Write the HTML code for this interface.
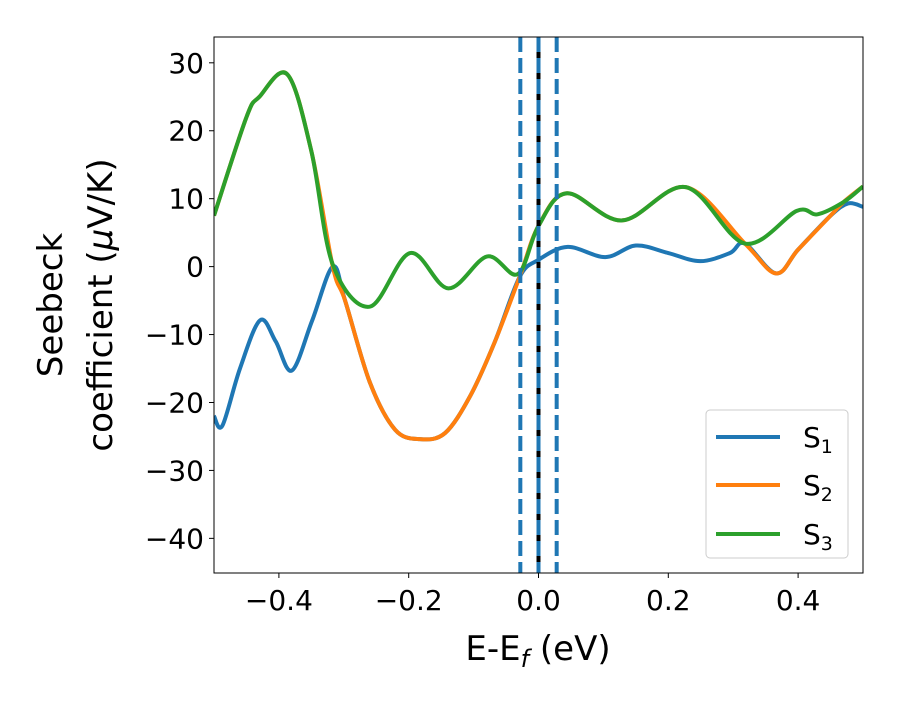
<!DOCTYPE html>
<html><head><meta charset="utf-8"><style>
body{margin:0;background:#fff}
svg text{font-family:"DejaVu Sans","Liberation Sans",sans-serif;fill:#000}
</style></head><body>
<svg id="c" width="900" height="700" xmlns="http://www.w3.org/2000/svg"></svg>
<script>
const xTicks=[-0.4,-0.2,0.0,0.2,0.4];
const xTickLabels=["\u22120.4","\u22120.2","0.0","0.2","0.4"];
const yTicks=[30,20,10,0,-10,-20,-30,-40];
const yTickLabels=["30","20","10","0","\u221210","\u221220","\u221230","\u221240"];
const s1x=[-0.5,-0.487,-0.46,-0.429,-0.405,-0.38,-0.349,-0.317,-0.298,-0.26,-0.221,-0.183,-0.144,-0.105,-0.067,-0.029,0,0.045,0.103,0.15,0.2,0.249,0.295,0.318,0.366,0.4,0.45,0.477,0.5];
const s1y=[-22,-23.4,-15,-7.9,-11,-15.3,-8,0,-5,-17,-24,-25.4,-24.5,-19,-11,-1.5,1,2.9,1.4,3.1,2,0.8,2,3.4,-1,2.5,7.5,9.3,8.8];
const s2x=[-0.5,-0.45,-0.43,-0.387,-0.35,-0.317,-0.298,-0.26,-0.221,-0.183,-0.144,-0.105,-0.067,-0.029,0,0.044,0.129,0.227,0.318,0.366,0.4,0.45,0.47,0.5];
const s2y=[7.5,22,25,28.3,17,0,-5,-17,-24,-25.4,-24.5,-19,-11,-1.5,6,10.8,6.8,11.7,3.4,-1,2.5,7.5,9.5,11.8];
const s3x=[-0.5,-0.45,-0.43,-0.387,-0.35,-0.317,-0.26,-0.198,-0.139,-0.079,-0.032,0,0.044,0.129,0.227,0.318,0.398,0.43,0.47,0.5];
const s3y=[7.5,22,25,28.3,17,0.3,-5.9,2,-3.2,1.5,-1.1,6,10.8,6.8,11.7,3.4,8.2,7.7,9.5,11.8];
const vlines=[-0.028,0,0.028];
const NS="http://www.w3.org/2000/svg",svg=document.getElementById('c');
const L=214,R=863,T=37,B=573,X0=-0.5,X1=0.5,Y0=-45.1,Y1=33.8;
const sx=v=>L+(v-X0)/(X1-X0)*(R-L), sy=v=>B-(v-Y0)/(Y1-Y0)*(B-T);
function mk(t,a,p){const e=document.createElementNS(NS,t);for(const k in a)e.setAttribute(k,a[k]);(p||svg).appendChild(e);return e;}
const defs=mk('defs',{});const cp=mk('clipPath',{id:'pc'},defs);mk('rect',{x:L,y:T,width:R-L,height:B-T},cp);
const g=mk('g',{'clip-path':'url(#pc)'});
function path(xs,ys){const p=xs.map((x,i)=>[sx(x),sy(ys[i])]);let d='M'+p[0][0]+','+p[0][1];
for(let i=0;i<p.length-1;i++){const a=p[Math.max(i-1,0)],b=p[i],c=p[i+1],e=p[Math.min(i+2,p.length-1)];
d+=' C'+(b[0]+(c[0]-a[0])/6)+','+(b[1]+(c[1]-a[1])/6)+' '+(c[0]-(e[0]-b[0])/6)+','+(c[1]-(e[1]-b[1])/6)+' '+c[0]+','+c[1];}return d;}
const series=[[s1x,s1y,'#1f77b4','series-s1'],[s2x,s2y,'#ff7f0e','series-s2'],[s3x,s3y,'#2ca02c','series-s3']];
series.forEach(s=>{const e=mk('path',{d:path(s[0],s[1]),fill:'none',stroke:s[2],'stroke-width':4},g);
});
vlines.forEach(v=>{if(v===0){const k=mk('line',{x1:sx(0),x2:sx(0),y1:T,y2:B,stroke:'#000','stroke-width':4},g);
}
const e=mk('line',{x1:sx(v),x2:sx(v),y1:T,y2:B,stroke:'#1f77b4','stroke-width':4,'stroke-dasharray':'15,6'},g);
});
const fr=mk('rect',{x:L,y:T,width:R-L,height:B-T,fill:'none',stroke:'#000','stroke-width':1});

xTicks.forEach((v,i)=>{mk('line',{x1:sx(v),x2:sx(v),y1:B,y2:B+5,stroke:'#000'});
const t=mk('text',{x:sx(v),y:B+37,'text-anchor':'middle','font-size':28});t.textContent=xTickLabels[i];
});
yTicks.forEach((v,i)=>{mk('line',{x1:L-5,x2:L,y1:sy(v),y2:sy(v),stroke:'#000'});
const t=mk('text',{x:L-10,y:sy(v)+10,'text-anchor':'end','font-size':28});t.textContent=yTickLabels[i];
});
</script>
<svg style="position:absolute;left:0;top:0" width="900" height="700" xmlns="http://www.w3.org/2000/svg">
<text x="538" y="660" text-anchor="middle" font-size="34">E-E<tspan font-style="italic" font-size="24" dy="7">f</tspan><tspan dy="-7"> (eV)</tspan></text>
<g transform="translate(62,305) rotate(-90)">
<text x="0" y="0" text-anchor="middle" font-size="34">Seebeck</text>
<text x="0" y="50" text-anchor="middle" font-size="34">coefficient  (<tspan font-style="italic">μ</tspan>V/K)</text>
</g>
<g>
<rect x="706" y="410" width="142" height="148" rx="4" fill="#fff" fill-opacity="0.8" stroke="#ccc"/>
<g><line x1="716" x2="780" y1="437" y2="437" stroke="#1f77b4" stroke-width="4"/><text x="803" y="447" font-size="28">S<tspan font-size="19" dy="6">1</tspan></text></g>
<g><line x1="716" x2="780" y1="485" y2="485" stroke="#ff7f0e" stroke-width="4"/><text x="803" y="495" font-size="28">S<tspan font-size="19" dy="6">2</tspan></text></g>
<g><line x1="716" x2="780" y1="534" y2="534" stroke="#2ca02c" stroke-width="4"/><text x="803" y="544" font-size="28">S<tspan font-size="19" dy="6">3</tspan></text></g>
</g>
</svg>
</body></html>
